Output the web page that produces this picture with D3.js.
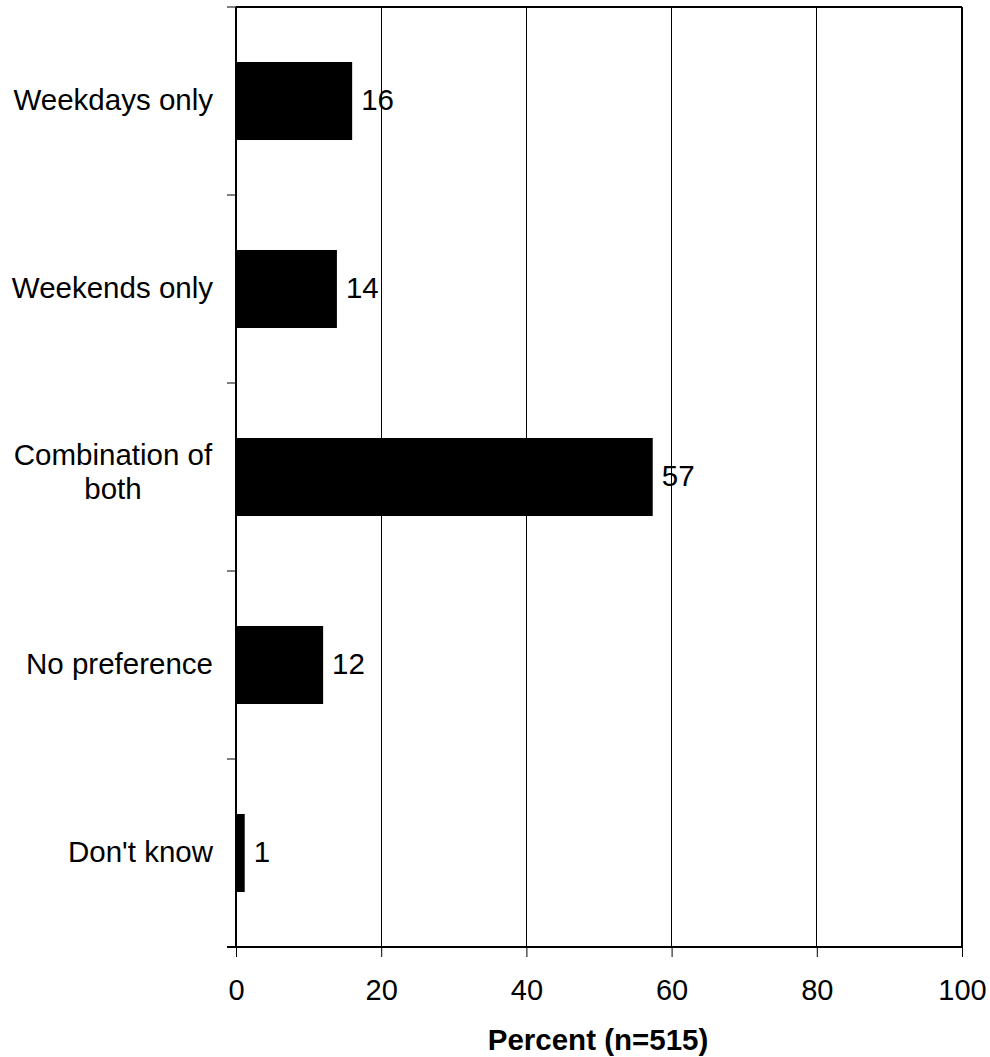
<!DOCTYPE html>
<html><head><meta charset="utf-8">
<script src="https://cdn.jsdelivr.net/npm/d3@7"></script>
<style>body{margin:0;background:#fff}svg{display:block}text{font-family:"Liberation Sans",Arial,sans-serif;fill:#000}</style>
</head><body><svg id="c" width="990" height="1057"></svg>
<script>
const categories = ["Weekdays only","Weekends only","Combination of both","No preference","Don't know"];
const categoryLines = [["Weekdays only"],["Weekends only"],["Combination of","both"],["No preference"],["Don't know"]];
const values = [16, 13.9, 57.4, 12, 1.2];
const valueLabels = ["16","14","57","12","1"];
const xTicks = [0,20,40,60,80,100];
const xTitle = "Percent (n=515)";

const FS = 29.5, FT = 29, FB = 29.5;
const svg = d3.select("#c");
const L = 236, R = 962, T = 7, B = 947;
const x = d3.scaleLinear().domain([0,100]).range([L,R]);
const y = d3.scaleBand().domain(categories).range([T,B]).paddingInner(0.585).paddingOuter(0.2925);
const yb = d3.scaleBand().domain(categories).range([T,B]);

// gridlines
svg.selectAll(".grid").data(xTicks.slice(1,-1)).enter().append("line")
  .attr("x1",d=>x(d)).attr("x2",d=>x(d)).attr("y1",T).attr("y2",B)
  .attr("stroke","#000").attr("stroke-width",1).attr("shape-rendering","crispEdges");

// bars
svg.selectAll(".bar").data(values).enter().append("rect")
  .attr("x",x(0)).attr("y",(d,i)=>y(categories[i]))
  .attr("width",d=>x(d)-x(0)).attr("height",y.bandwidth()).attr("fill","#000");

// frame
svg.append("line").attr("x1",L).attr("x2",R).attr("y1",T).attr("y2",T).attr("stroke","#000").attr("stroke-width",2);
svg.append("line").attr("x1",R).attr("x2",R).attr("y1",T).attr("y2",B).attr("stroke","#000").attr("stroke-width",2);

// x axis
const xAxis = svg.append("g").attr("transform",`translate(0,${B})`)
  .call(d3.axisBottom(x).tickValues(xTicks).tickSize(10).tickPadding(0).tickFormat(d3.format("d")));
xAxis.select(".domain").attr("stroke-width",2).attr("d",`M${L-9},0H${R}`);
xAxis.selectAll(".tick line").attr("stroke-width",1);
xAxis.selectAll("text").attr("font-size",FT).style("font-size",FT+"px")
  .attr("font-family","Liberation Sans, Arial, sans-serif").attr("dy",null).attr("y",53);

// y axis
const yAxis = svg.append("g").attr("transform",`translate(${L},0)`);
yAxis.append("line").attr("x1",0).attr("x2",0).attr("y1",T).attr("y2",B).attr("stroke","#000").attr("stroke-width",2);
const bounds = categories.map(c=>yb(c)).concat([B]);
yAxis.selectAll(".yt").data(bounds).enter().append("line")
  .attr("x1",-9).attr("x2",0).attr("y1",d=>d).attr("y2",d=>d).attr("stroke","#000").attr("stroke-width",1);

// category labels
categoryLines.forEach((lines,i)=>{
  const cy = y(categories[i]) + y.bandwidth()/2;
  const multi = lines.length>1;
  const ax = multi ? 113 : 213;
  if (multi) {
    lines.forEach((ln,j)=>{
      svg.append("text").attr("font-size",FS).style("font-size",FS+"px")
        .attr("text-anchor","middle").attr("x", ax).attr("y", cy - 12 + j*34).text(ln);
    });
  } else {
    svg.append("text").attr("font-size",FS).style("font-size",FS+"px")
      .attr("text-anchor","end").attr("x", ax).attr("y", cy).attr("dy","0.3em").text(lines[0]);
  }
});

// value labels
svg.selectAll(".vl").data(values).enter().append("text")
  .attr("x",d=>x(d)+9).attr("y",(d,i)=>y(categories[i])+y.bandwidth()/2).attr("dy","0.3em")
  .attr("font-size",FS).style("font-size",FS+"px").text((d,i)=>valueLabels[i]);

// x title
svg.append("text").attr("x",598).attr("y",1050).attr("text-anchor","middle")
  .attr("font-size",FB).style("font-size",FB+"px").style("font-weight","bold").text(xTitle);
</script></body></html>
